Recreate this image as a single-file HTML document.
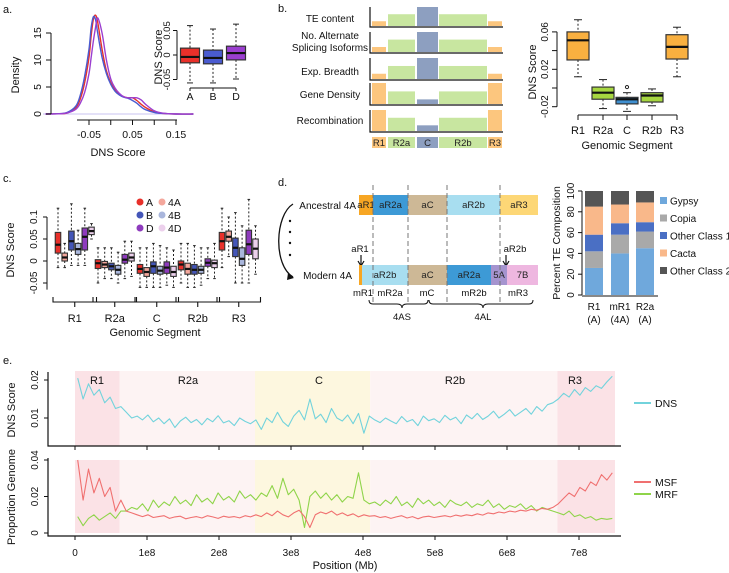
<!DOCTYPE html>
<html><head><meta charset="utf-8"><style>
html,body{margin:0;padding:0;background:#fff;}
svg{display:block;font-family:"Liberation Sans",Arial,sans-serif;}
</style></head><body>
<svg id="fig" width="729" height="573" viewBox="0 0 729 573" xmlns="http://www.w3.org/2000/svg">
<rect x="0" y="0" width="729" height="573" fill="#fff"/>
<!-- panel a static -->
<g font-size="10.5" fill="#111">
<text x="3" y="13" font-size="11">a.</text>
<text transform="translate(19,75) rotate(-90)" text-anchor="middle" font-size="11">Density</text>
<text x="118" y="156" text-anchor="middle" font-size="11">DNS Score</text>
<text transform="translate(162,57) rotate(-90)" text-anchor="middle" font-size="11">DNS Score</text>
</g>
<!-- panel b static -->
<g font-size="10" fill="#111">
<text x="278" y="12" font-size="11">b.</text>
<text x="330" y="22" text-anchor="middle">TE content</text>
<text x="330" y="39" text-anchor="middle">No. Alternate</text>
<text x="330" y="51" text-anchor="middle">Splicing Isoforms</text>
<text x="330" y="75" text-anchor="middle">Exp. Breadth</text>
<text x="330" y="98" text-anchor="middle">Gene Density</text>
<text x="330" y="124" text-anchor="middle">Recombination</text>
<text transform="translate(536,72) rotate(-90)" text-anchor="middle" font-size="11">DNS Score</text>
<text x="627" y="149" text-anchor="middle" font-size="11">Genomic Segment</text>
</g>
<!-- panel c static -->
<g font-size="10" fill="#111">
<text x="3" y="182" font-size="11">c.</text>
<text transform="translate(14,250) rotate(-90)" text-anchor="middle" font-size="11">DNS Score</text>
<text x="155" y="336" text-anchor="middle" font-size="11">Genomic Segment</text>
</g>
<!-- panel d static -->
<g font-size="9.5" fill="#111">
<text x="278" y="186" font-size="11">d.</text>
<text x="356" y="209" text-anchor="end" font-size="10">Ancestral 4A</text>
<text x="352" y="279" text-anchor="end" font-size="10">Modern 4A</text>
<path d="M293,204 C275,215 273,265 293,277" fill="none" stroke="#111" stroke-width="1.3"/>
<path d="M288,273 L294,278 L287,280 Z" fill="#111"/>
<circle cx="290" cy="221" r="1.2" fill="#111"/>
<circle cx="290" cy="232" r="1.2" fill="#111"/>
<circle cx="290" cy="243" r="1.2" fill="#111"/>
<circle cx="290" cy="255" r="1.2" fill="#111"/>
<text x="360" y="252" text-anchor="middle">aR1</text>
<path d="M361,255 L361,265 M358,261 L361,266 L364,261" stroke="#111" fill="none" stroke-width="1.2"/>
<text x="515" y="252" text-anchor="middle">aR2b</text>
<path d="M506,255 L506,265 M503,261 L506,266 L509,261" stroke="#111" fill="none" stroke-width="1.2"/>
<text x="363" y="296" text-anchor="middle">mR1</text>
<text x="390" y="296" text-anchor="middle">mR2a</text>
<text x="427" y="296" text-anchor="middle">mC</text>
<text x="474" y="296" text-anchor="middle">mR2b</text>
<text x="518" y="296" text-anchor="middle">mR3</text>
<path d="M369,300 Q369,304 373,304 L397,304 Q402,304 402,308 Q402,304 407,304 L424,304 Q428,304 428,300" fill="none" stroke="#111"/>
<path d="M429,300 Q429,304 433,304 L478,304 Q483,304 483,308 Q483,304 488,304 L529,304 Q533,304 533,300" fill="none" stroke="#111"/>
<text x="402" y="320" text-anchor="middle">4AS</text>
<text x="483" y="320" text-anchor="middle">4AL</text>
<text transform="translate(560,243) rotate(-90)" text-anchor="middle" font-size="10.5">Percent TE Composition</text>
</g>
<!-- panel e static -->
<g font-size="10" fill="#111">
<text x="3" y="364" font-size="11">e.</text>
<text transform="translate(15,410) rotate(-90)" text-anchor="middle" font-size="11">DNS Score</text>
<text transform="translate(15,497) rotate(-90)" text-anchor="middle" font-size="11">Proportion Genome</text>
<text x="345" y="569" text-anchor="middle" font-size="11">Position (Mb)</text>
</g>
<g id="dyn"></g>
</svg>
<script>
// ---------- panel a data ----------
const densGrid = [-0.15,-0.12,-0.1,-0.08,-0.07,-0.06,-0.05,-0.045,-0.04,-0.035,-0.03,-0.02,-0.01,0,0.01,0.02,0.03,0.04,0.05,0.06,0.07,0.08,0.1,0.12,0.15,0.19];
const densA = [0,0.05,0.2,1.2,2.8,5.8,10.5,14.5,17.5,18.3,17,12,8,5.8,4.5,3.6,3.2,3,3,2.5,1.8,1.2,0.4,0.1,0,0];
const densB = [0,0.05,0.3,1.5,3.5,7,12,16,18,17.5,15,10.5,7.5,5.5,4.2,3.5,3.1,2.9,2.5,2,1.3,0.8,0.3,0.1,0,0];
const densD = [0,0.03,0.2,0.9,2,4,7.5,10.5,13.5,16,17.8,15,10,6.5,4.8,3.8,3.2,3,3,3,2.6,1.8,0.6,0.15,0,0];
const densYTicks = [0,5,10,15];
const densXTicks = [-0.05,0,0.05,0.1,0.15];
const densXLabels = ["-0.05","","0.05","","0.15"];
const insetCats = ["A","B","D"];
const insetMed = [-0.004,-0.006,0.004];
const insetQ1 = [-0.016,-0.018,-0.010];
const insetQ3 = [0.014,0.010,0.018];
const insetLo = [-0.057,-0.057,-0.049];
const insetHi = [0.060,0.053,0.063];
// ---------- panel b data ----------
const schemSegs = ["R1","R2a","C","R2b","R3"];
const schemTE = [0.25,0.62,1,0.62,0.25];
const schemSplice = [0.25,0.62,1,0.62,0.25];
const schemExp = [0.25,0.62,1,0.62,0.25];
const schemGene = [1,0.6,0.22,0.6,1];
const schemRecomb = [1,0.63,0.27,0.63,1];
const bCats = ["R1","R2a","C","R2b","R3"];
const bMed = [0.051,-0.005,-0.012,-0.008,0.044];
const bQ1 = [0.030,-0.012,-0.017,-0.015,0.031];
const bQ3 = [0.060,0.001,-0.010,-0.005,0.057];
const bLo = [0.012,-0.022,-0.025,-0.019,0.012];
const bHi = [0.073,0.009,-0.005,-0.001,0.065];
const bOut = [null,null,0.001,null,null];
const bYTicks = [0.06,0.04,0.02,0,-0.02];
const bYLabels = ["0.06","","0.02","","-0.02"];
// ---------- panel c data ----------
const cGroups = ["R1","R2a","C","R2b","R3"];
const cSeries = ["A","4A","B","4B","D","4D"];
const cMed = [[0.037,0.008,0.045,0.027,0.055,0.068],[-0.005,-0.008,-0.012,-0.02,0.003,0.008],[-0.018,-0.025,-0.012,-0.022,-0.015,-0.025],[-0.008,-0.018,-0.02,-0.02,-0.004,-0.005],[0.045,0.055,0.03,0.005,0.038,0.028]];
const cQ1 = [[0.018,0,0.025,0.015,0.025,0.06],[-0.017,-0.015,-0.02,-0.03,-0.005,0],[-0.028,-0.035,-0.028,-0.03,-0.028,-0.035],[-0.02,-0.03,-0.03,-0.028,-0.012,-0.015],[0.025,0.045,0.01,-0.01,0.015,0.005]];
const cQ3 = [[0.065,0.018,0.068,0.04,0.075,0.077],[0.003,-0.001,-0.005,-0.01,0.015,0.018],[-0.008,-0.015,-0.002,-0.012,-0.002,-0.012],[0,-0.005,-0.008,-0.012,0.005,0.002],[0.065,0.068,0.052,0.03,0.07,0.05]];
const cLo = [[-0.015,-0.015,-0.01,-0.01,-0.01,0.05],[-0.05,-0.04,-0.04,-0.05,-0.04,-0.035],[-0.06,-0.06,-0.06,-0.06,-0.055,-0.06],[-0.05,-0.06,-0.06,-0.055,-0.04,-0.04],[-0.015,0.01,-0.05,-0.05,-0.05,-0.03]];
const cHi = [[0.12,0.04,0.13,0.07,0.12,0.085],[0.03,0.03,0.03,0.02,0.045,0.045],[0.03,0.03,0.04,0.035,0.03,0.025],[0.04,0.04,0.035,0.03,0.03,0.04],[0.12,0.1,0.11,0.08,0.14,0.08]];
const cYTicks = [0.1,0.05,0,-0.05];
const cYLabels = ["0.1","0.05","0","-0.05"];
// ---------- panel d data ----------
const teBars = ["R1|(A)","mR1|(4A)","R2a|(A)"];
const teClasses = ["Gypsy","Copia","Other Class 1","Cacta","Other Class 2"];
const teGypsy = [26,40,45];
const teCopia = [16,18,16];
const teOther1 = [16,11,9];
const teCacta = [27,18,19];
const teOther2 = [15,13,11];
const teYTicks = [0,20,40,60,80,100];
// ---------- panel e data ----------
const eBinSize = 7.5e6;
const eSegNames = ["R1","R2a","C","R2b","R3"];
const eSegStart = [0,0.62e8,2.5e8,4.1e8,6.7e8];
const eSegEnd = [0.62e8,2.5e8,4.1e8,6.7e8,7.5e8];
const eXTicks = [0,1e8,2e8,3e8,4e8,5e8,6e8,7e8];
const eXLabels = ["0","1e8","2e8","3e8","4e8","5e8","6e8","7e8"];
const dnsScore = [.0205,.0150,.0190,.0160,.0175,.0140,.0155,.0125,.0130,
.0115,.0100,.0105,.0095,.0108,.0090,.0100,.0085,.0098,.0075,.0092,.0102,.0088,.0096,.0082,.0099,.0090,.0106,.0087,.0093,.0080,.0100,.0091,.0085,
.0095,.0070,.0100,.0088,.0115,.0090,.0078,.0105,.0120,.0095,.0150,.0098,.0110,.0088,.0125,.0100,.0092,.0108,.0085,.0112,.0060,.0105,
.0095,.0088,.0100,.0092,.0085,.0104,.0090,.0096,.0080,.0105,.0093,.0098,.0088,.0107,.0095,.0102,.0085,.0108,.0098,.0112,.0096,.0105,.0118,.0100,.0110,.0122,.0105,.0115,.0125,.0110,.0130,.0118,.0135,.0140,
.0150,.0165,.0155,.0175,.0160,.0180,.0170,.0185,.0178,.0195,.0210];
const msfProp = [.040,.018,.035,.022,.030,.020,.025,.012,.018,
.012,.011,.010,.009,.010,.0085,.009,.0095,.008,.0088,.0092,.0078,.0085,.009,.0082,.0095,.0088,.008,.0092,.0086,.009,.0083,.0095,.0088,
.010,.009,.011,.0095,.012,.010,.0088,.011,.0125,.009,.003,.010,.0115,.0105,.012,.0098,.011,.0095,.0105,.0088,.010,.0092,
.0095,.0085,.009,.008,.0088,.0095,.0082,.009,.0078,.0088,.0092,.0085,.009,.0095,.0088,.0098,.0092,.010,.0095,.0105,.0098,.011,.0105,.0115,.011,.012,.0115,.0125,.012,.013,.0125,.0135,.013,.014,
.016,.019,.022,.020,.025,.023,.028,.026,.032,.029,.033];
const mrfProp = [.009,.004,.008,.010,.007,.009,.011,.008,.012,
.012,.014,.013,.016,.012,.018,.014,.017,.015,.020,.016,.018,.015,.021,.017,.019,.016,.022,.018,.020,.017,.023,.019,.021,
.018,.022,.020,.026,.019,.030,.021,.024,.018,.003,.020,.023,.019,.022,.018,.021,.017,.020,.019,.033,.018,.016,
.017,.015,.018,.016,.020,.015,.017,.014,.019,.016,.018,.015,.017,.014,.018,.016,.015,.017,.014,.016,.015,.018,.014,.016,.013,.015,.014,.016,.013,.015,.012,.014,.013,.012,
.011,.010,.012,.009,.010,.008,.009,.007,.008,.0075,.008];

const NS = "http://www.w3.org/2000/svg";
const root = document.getElementById('dyn');
function mk(tag, a, parent){ const e=document.createElementNS(NS,tag); for(const k in a) e.setAttribute(k,a[k]); (parent||root).appendChild(e); return e; }
function tx(x,y,s,a,parent){ const e=mk('text',Object.assign({x:x,y:y},a||{}),parent); e.textContent=s; return e; }
function rtx(x,y,s,fs){ const e=mk('text',{transform:`translate(${x},${y}) rotate(-90)`,'text-anchor':'middle','font-size':fs||10,fill:'#111'}); e.textContent=s; return e; }

// ===== Panel a: density =====
const ax = v => 89 + (v + 0.05) * 435;
const ay = v => 114 - v * 5.4;
let e;
e = mk('line',{x1:43,y1:114,x2:193,y2:114,stroke:'#c9c3f0','stroke-width':1});
 
[[densA,'#e8302a','density-curve-a'],[densB,'#4a5bd0','density-curve-b'],[densD,'#9b3fd0','density-curve-d']].forEach(([arr,col,nm])=>{
  let d=''; let pts=densGrid.map((g,i)=>[ax(g),ay(arr[i])]);
  d='M'+pts[0][0]+','+pts[0][1];
  for(let i=1;i<pts.length;i++){ const p0=pts[Math.max(0,i-2)],p1=pts[i-1],p2=pts[i],p3=pts[Math.min(pts.length-1,i+1)];
    const c1x=p1[0]+(p2[0]-p0[0])/6,c1y=p1[1]+(p2[1]-p0[1])/6,c2x=p2[0]-(p3[0]-p1[0])/6,c2y=p2[1]-(p3[1]-p1[1])/6;
    d+=` C${c1x},${c1y} ${c2x},${c2y} ${p2[0]},${p2[1]}`; }
  const p=mk('path',{d:d,fill:'none',stroke:col,'stroke-width':1.4});
   
});
e = mk('line',{x1:51,y1:ay(15),x2:51,y2:ay(0),stroke:'#111'});
 
densYTicks.forEach(t=>{ mk('line',{x1:46,y1:ay(t),x2:51,y2:ay(t),stroke:'#111'}); const l=rtx(41,ay(t),String(t),10.5);
    });
e = mk('line',{x1:77,y1:120,x2:177,y2:120,stroke:'#111'});
 
densXTicks.forEach((t,i)=>{ mk('line',{x1:ax(t),y1:120,x2:ax(t),y2:125,stroke:'#111'}); if(densXLabels[i]){ const l=tx(ax(t),138,densXLabels[i],{'text-anchor':'middle','font-size':10.5,fill:'#111'});
    }});

// inset boxplot
const iy = v => 55 - v * 490;
const ix = [190,213,236];
const insetCols = ['#e8302a','#4a5bd0','#9b3fd0'];
e = mk('line',{x1:177,y1:iy(0.05),x2:177,y2:iy(-0.05),stroke:'#111'});
 
[0.05,0,-0.05].forEach(t=>{ mk('line',{x1:173,y1:iy(t),x2:177,y2:iy(t),stroke:'#111'}); const l=rtx(170,iy(t),t===0?'0':String(t),9.5);
    });
e = mk('line',{x1:ix[0],y1:88,x2:ix[2],y2:88,stroke:'#111'});
 
function drawBox(cx,w,yf,med,q1,q3,lo,hi,col,nm,capw,sw){
  const g=mk('g',{});
   
  mk('line',{x1:cx,y1:yf(hi),x2:cx,y2:yf(q3),stroke:'#222','stroke-dasharray':'2,2'},g);
  mk('line',{x1:cx,y1:yf(q1),x2:cx,y2:yf(lo),stroke:'#222','stroke-dasharray':'2,2'},g);
  mk('line',{x1:cx-capw,y1:yf(hi),x2:cx+capw,y2:yf(hi),stroke:'#222'},g);
  mk('line',{x1:cx-capw,y1:yf(lo),x2:cx+capw,y2:yf(lo),stroke:'#222'},g);
  mk('rect',{x:cx-w/2,y:yf(q3),width:w,height:yf(q1)-yf(q3),fill:col,stroke:'#333','stroke-width':sw||1},g);
  mk('line',{x1:cx-w/2,y1:yf(med),x2:cx+w/2,y2:yf(med),stroke:'#111','stroke-width':2.2},g);
}
insetCats.forEach((c,i)=>{ drawBox(ix[i],19,iy,insetMed[i],insetQ1[i],insetQ3[i],insetLo[i],insetHi[i],insetCols[i],'inset-box-'+c.toLowerCase(),3,1.2);
  mk('line',{x1:ix[i],y1:88,x2:ix[i],y2:91,stroke:'#111'});
  const l=tx(ix[i],100,c,{'text-anchor':'middle','font-size':10.5,fill:'#111'});
    });

// ===== Panel b schematic =====
const segX0 = [372,388,417,439,488];
const segX1 = [386,415,438,487,502];
const segCol = ['#fcc67e','#c8e6a0','#8d9fc0','#c8e6a0','#fcc67e'];
const rows = [[schemTE,7,27,'te-content'],[schemSplice,32,53,'splicing-isoforms'],[schemExp,58,80,'exp-breadth'],[schemGene,83,105,'gene-density'],[schemRecomb,110,132,'recombination']];
rows.forEach(([vals,top,bot,nm])=>{
  const h=bot-top-1;
  schemSegs.forEach((s,i)=>{ const r=mk('rect',{x:segX0[i],y:bot-1-vals[i]*h,width:segX1[i]-segX0[i],height:vals[i]*h,fill:segCol[i]});
      });
  const a=mk('path',{d:`M370,${top} L370,${bot} L503,${bot}`,fill:'none',stroke:'#111','stroke-width':1.2});
   
});
schemSegs.forEach((s,i)=>{ const r=mk('rect',{x:segX0[i],y:137,width:segX1[i]-segX0[i],height:11,fill:segCol[i]});
   
  const l=tx((segX0[i]+segX1[i])/2,146,s,{'text-anchor':'middle','font-size':9.5,fill:'#222'});
    });

// ===== Panel b boxplot =====
const by = v => 88 - v * 935;
const bx = [578,603,627,652,677];
const bCols = ['#f9b040','#a6d640','#3f8fd0','#a6d640','#f9b040'];
e = mk('line',{x1:557,y1:by(0.06),x2:557,y2:by(-0.02),stroke:'#111'});
 
bYTicks.forEach((t,i)=>{ mk('line',{x1:552,y1:by(t),x2:557,y2:by(t),stroke:'#111'}); if(bYLabels[i]){ const l=rtx(548,by(t),bYLabels[i],10);
    }});
e = mk('line',{x1:bx[0],y1:115,x2:bx[4],y2:115,stroke:'#111'});
 
bCats.forEach((c,i)=>{ drawBox(bx[i],22,by,bMed[i],bQ1[i],bQ3[i],bLo[i],bHi[i],bCols[i],'b-box-'+c.toLowerCase(),4,1.2);
  if(bOut[i]!==null){ const o=mk('circle',{cx:bx[i],cy:by(bOut[i]),r:1.6,fill:'none',stroke:'#222'});
      }
  mk('line',{x1:bx[i],y1:115,x2:bx[i],y2:120,stroke:'#111'});
  const l=tx(bx[i],134,c,{'text-anchor':'middle','font-size':11,fill:'#111'});
    });

// ===== Panel c =====
const cy = v => 261 - v * 440;
const cCols = ['#e8302a','#f4a79c','#4456b8','#a9b6dc','#8e3bbd','#ecd0ec'];
const cGroupX = [58,98,140,181,222];
e = mk('line',{x1:47,y1:cy(0.1),x2:47,y2:cy(-0.065),stroke:'#111'});
 
cYTicks.forEach((t,i)=>{ mk('line',{x1:43,y1:cy(t),x2:47,y2:cy(t),stroke:'#111'}); const l=rtx(37,cy(t),cYLabels[i],10);
    });
cGroups.forEach((g,gi)=>{
  cSeries.forEach((s,si)=>{ const x=cGroupX[gi]+si*6.7;
    drawBox(x,5.5,cy,cMed[gi][si],cQ1[gi][si],cQ3[gi][si],cLo[gi][si],cHi[gi][si],cCols[si],'c-box-'+g.toLowerCase()+'-'+s.toLowerCase(),1.3,1.1); });
  const x0=cGroupX[gi]-5, x1=cGroupX[gi]+5*6.7+5, xm=(x0+x1)/2;
  const b=mk('path',{d:`M${x0},297 L${x0},302 L${x1},302 L${x1},297 M${xm},302 L${xm},307`,fill:'none',stroke:'#111','stroke-width':1.1});
   
  const l=tx(xm,322,g,{'text-anchor':'middle','font-size':11,fill:'#111'});
   
});
const legPos=[[140,202],[162,202],[140,215],[162,215],[140,228],[162,228]];
cSeries.forEach((s,i)=>{ const d=mk('circle',{cx:legPos[i][0],cy:legPos[i][1],r:3.5,fill:cCols[i]});
   
  const l=tx(legPos[i][0]+6,legPos[i][1]+4,s,{'font-size':10.5,fill:'#111'});
    });

// ===== Panel d chromosome bars =====
const ancSegs=[['aR1',359,373,'#f7a623'],['aR2a',373,408,'#3d9ad6'],['aC',408,447,'#cdb896'],['aR2b',447,500,'#a8def0'],['aR3',500,538,'#fdd776']];
const modSegs=[['',359,362,'#f7a623'],['aR2b',362,408,'#a8def0'],['aC',408,447,'#cdb896'],['aR2a',447,491,'#3d9ad6'],['5A',491,507,'#a594cf'],['7B',507,538,'#eeb7e0']];
ancSegs.forEach(s=>{ const r=mk('rect',{x:s[1],y:195,width:s[2]-s[1],height:20,fill:s[3]});  
  const l=tx((s[1]+s[2])/2,208,s[0],{'text-anchor':'middle','font-size':9.5,fill:'#222'});   });
modSegs.forEach(s=>{ const r=mk('rect',{x:s[1],y:265,width:s[2]-s[1],height:20,fill:s[3]});  
  if(s[0]){ const l=tx((s[1]+s[2])/2,278,s[0],{'text-anchor':'middle','font-size':9.5,fill:'#222'});   }});
[373,408,447,500].forEach(x=>{ const l=mk('line',{x1:x,y1:185,x2:x,y2:303,stroke:'#777','stroke-dasharray':'5,3','stroke-width':1});
    });

// ===== Panel d stacked bars =====
const ty = v => 295 - v * 1.04;
const teX = [585,611,636];
const teW = 18;
const teCols = ['#6fa8dc','#a9a9a9','#4a6fc4','#f9b88a','#555555'];
const teSeries = [teGypsy,teCopia,teOther1,teCacta,teOther2];
e = mk('line',{x1:582,y1:ty(100),x2:582,y2:ty(0),stroke:'#111'});
 
e = mk('line',{x1:582,y1:296,x2:658,y2:296,stroke:'#111'});
 
teYTicks.forEach(t=>{ mk('line',{x1:578,y1:ty(t),x2:582,y2:ty(t),stroke:'#111'}); const l=rtx(574,ty(t),String(t),10);
    });
teBars.forEach((b,bi)=>{ let acc=0;
  teSeries.forEach((ser,si)=>{ const r=mk('rect',{x:teX[bi],y:ty(acc+ser[bi]),width:teW,height:ser[bi]*1.04,fill:teCols[si]});
      acc+=ser[bi]; });
  const parts=b.split('|');
  const l1=tx(teX[bi]+teW/2,310,parts[0],{'text-anchor':'middle','font-size':10,fill:'#111'});  
  const l2=tx(teX[bi]+teW/2,323,parts[1],{'text-anchor':'middle','font-size':10,fill:'#111'});  
});
teClasses.forEach((c,i)=>{ const y=201+i*17.5; const r=mk('rect',{x:660,y:y-4,width:7,height:7,fill:teCols[i]});
   
  const l=tx(670,y+3.5,c,{'font-size':10,fill:'#111'});   });

// ===== Panel e =====
const ex = p => 75 + p / 1e8 * 72;
const dy = v => 418 - (v - 0.01) * 3800;
const py = v => 533 - v * 1825;
const shadeCols = ['#fbe2e6','#fdf3f3','#fdf7df','#fdf3f3','#fbe2e6'];
eSegNames.forEach((s,i)=>{
  const r1=mk('rect',{x:ex(eSegStart[i]),y:371,width:ex(eSegEnd[i])-ex(eSegStart[i]),height:75,fill:shadeCols[i]});
   
  const r2=mk('rect',{x:ex(eSegStart[i]),y:460,width:ex(eSegEnd[i])-ex(eSegStart[i]),height:73,fill:shadeCols[i]});
   
});
const segLabelX=[97,188,319,455,575];
eSegNames.forEach((s,i)=>{ const l=tx(segLabelX[i],384,s,{'text-anchor':'middle','font-size':11,fill:'#111'});
    });
function line(arr,yf,col,nm){ const pts=arr.map((v,i)=>ex(i*eBinSize+eBinSize/2).toFixed(1)+','+yf(v).toFixed(1)).join(' ');
  const p=mk('polyline',{points:pts,fill:'none',stroke:col,'stroke-width':1.1,'stroke-linejoin':'round'});
    }
line(dnsScore,dy,'#72d3dc','dns-line');
line(mrfProp,py,'#8fd44a','mrf-line');
line(msfProp,py,'#f07070','msf-line');
e = mk('path',{d:'M48,372 L48,446 L621,446',fill:'none',stroke:'#111','stroke-width':1.2});
 
e = mk('path',{d:'M48,458 L48,536 L621,536',fill:'none',stroke:'#111','stroke-width':1.2});
 
[[0.02,'0.02'],[0.01,'0.01']].forEach(([v,s])=>{ mk('line',{x1:44,y1:dy(v),x2:48,y2:dy(v),stroke:'#111'}); const l=rtx(38,dy(v),s,10);
    });
[[0.04,'0.04'],[0.02,'0.02'],[0,'0']].forEach(([v,s])=>{ mk('line',{x1:44,y1:py(v),x2:48,y2:py(v),stroke:'#111'}); const l=rtx(38,py(v),s,10);
    });
eXTicks.forEach((t,i)=>{ mk('line',{x1:ex(t),y1:446,x2:ex(t),y2:450,stroke:'#111'}); mk('line',{x1:ex(t),y1:536,x2:ex(t),y2:540,stroke:'#111'});
  const l=tx(ex(t),556,eXLabels[i],{'text-anchor':'middle','font-size':10,fill:'#111'});
    });
[['DNS','#72d3dc',403,'dns'],['MSF','#f07070',482,'msf'],['MRF','#8fd44a',494,'mrf']].forEach(([s,c,y,k])=>{
  const ln=mk('line',{x1:634,y1:y,x2:651,y2:y,stroke:c,'stroke-width':2});  
  const l=tx(655,y+4,s,{'font-size':10.5,fill:'#111'});   });
</script>
</body></html>
